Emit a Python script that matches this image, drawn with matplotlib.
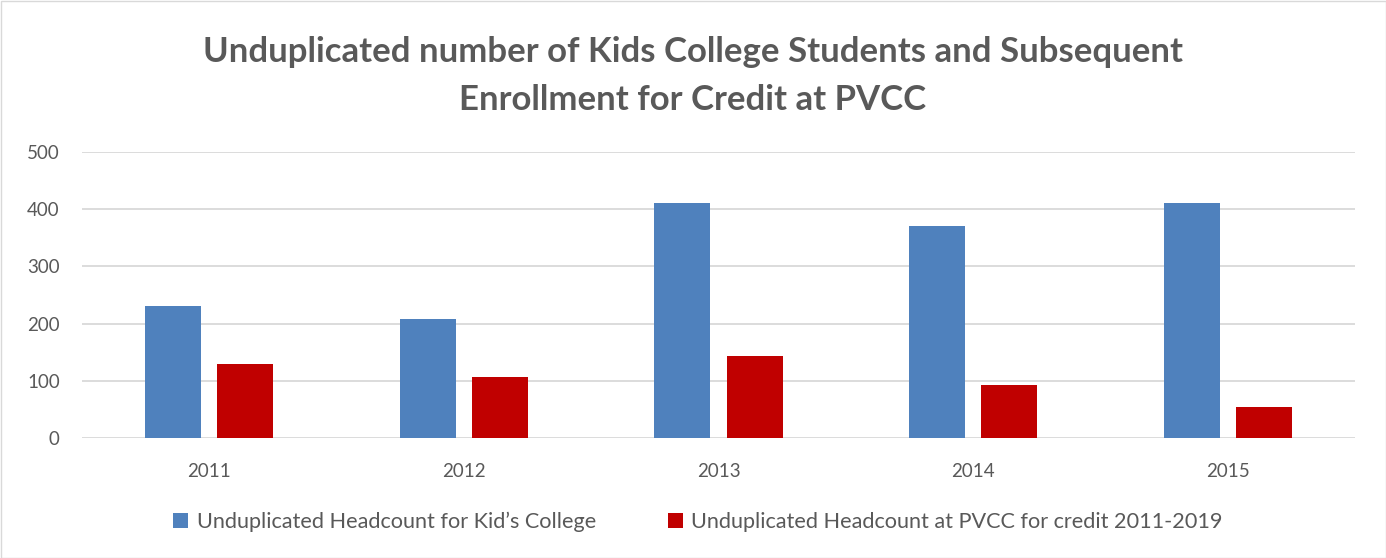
import matplotlib
matplotlib.use("Agg")
import matplotlib.pyplot as plt
import numpy as np
from matplotlib.patches import Rectangle

years = ["2011", "2012", "2013", "2014", "2015"]
kids_college = [231, 208, 410, 371, 410]
pvcc_credit = [130, 107, 144, 93, 54]
series_labels = ["Unduplicated Headcount for Kid\u2019s College",
                 "Unduplicated Headcount at PVCC for credit 2011-2019"]
title = "Unduplicated number of Kids College Students and Subsequent\nEnrollment for Credit at PVCC"
yticks = [0, 100, 200, 300, 400, 500]

plt.rcParams['font.family'] = ['Lato', 'DejaVu Sans']
W, H = 1386, 558
fig = plt.figure(figsize=(W/100, H/100), dpi=100)
fig.patches.append(Rectangle((0.5/W, 0.5/H), 1-1/W, 1-1/H, transform=fig.transFigure,
                             fill=False, edgecolor="#d9d9d9", linewidth=1))

ax = fig.add_axes([82/W, 1-438/H, (1355-82)/W, (438-152)/H])
x = np.arange(len(years))
bw = 0.22
off = 0.142
ax.bar(x - off, kids_college, bw, color="#4f81bd", label=series_labels[0], zorder=3)
ax.bar(x + off, pvcc_credit, bw, color="#c00000", label=series_labels[1], zorder=3)
ax.set_xlim(-0.5, len(years) - 0.5)
ax.set_ylim(0, 500)
ax.set_yticks(yticks)
ax.set_xticks(x)
ax.set_xticklabels(years)
ax.grid(axis='y', color="#d9d9d9", linewidth=1.3, zorder=0)
for s in ax.spines.values():
    s.set_visible(False)
ax.tick_params(axis='both', length=0, labelsize=13.5, colors="#595959")
ax.tick_params(axis='y', pad=16)
ax.tick_params(axis='x', pad=18)

fig.text(0.5, 1-76/H, title, ha='center', va='center', fontsize=25, fontweight='bold',
         color="#595959", linespacing=1.62)

leg = fig.legend(loc='center', bbox_to_anchor=(698/W, 1-522/H), ncol=2, frameon=False,
                 fontsize=15.6, handlelength=0.7, handleheight=0.7, handletextpad=0.4,
                 columnspacing=3.3, labelcolor="#595959")
plt.savefig("out.png", dpi=100)
